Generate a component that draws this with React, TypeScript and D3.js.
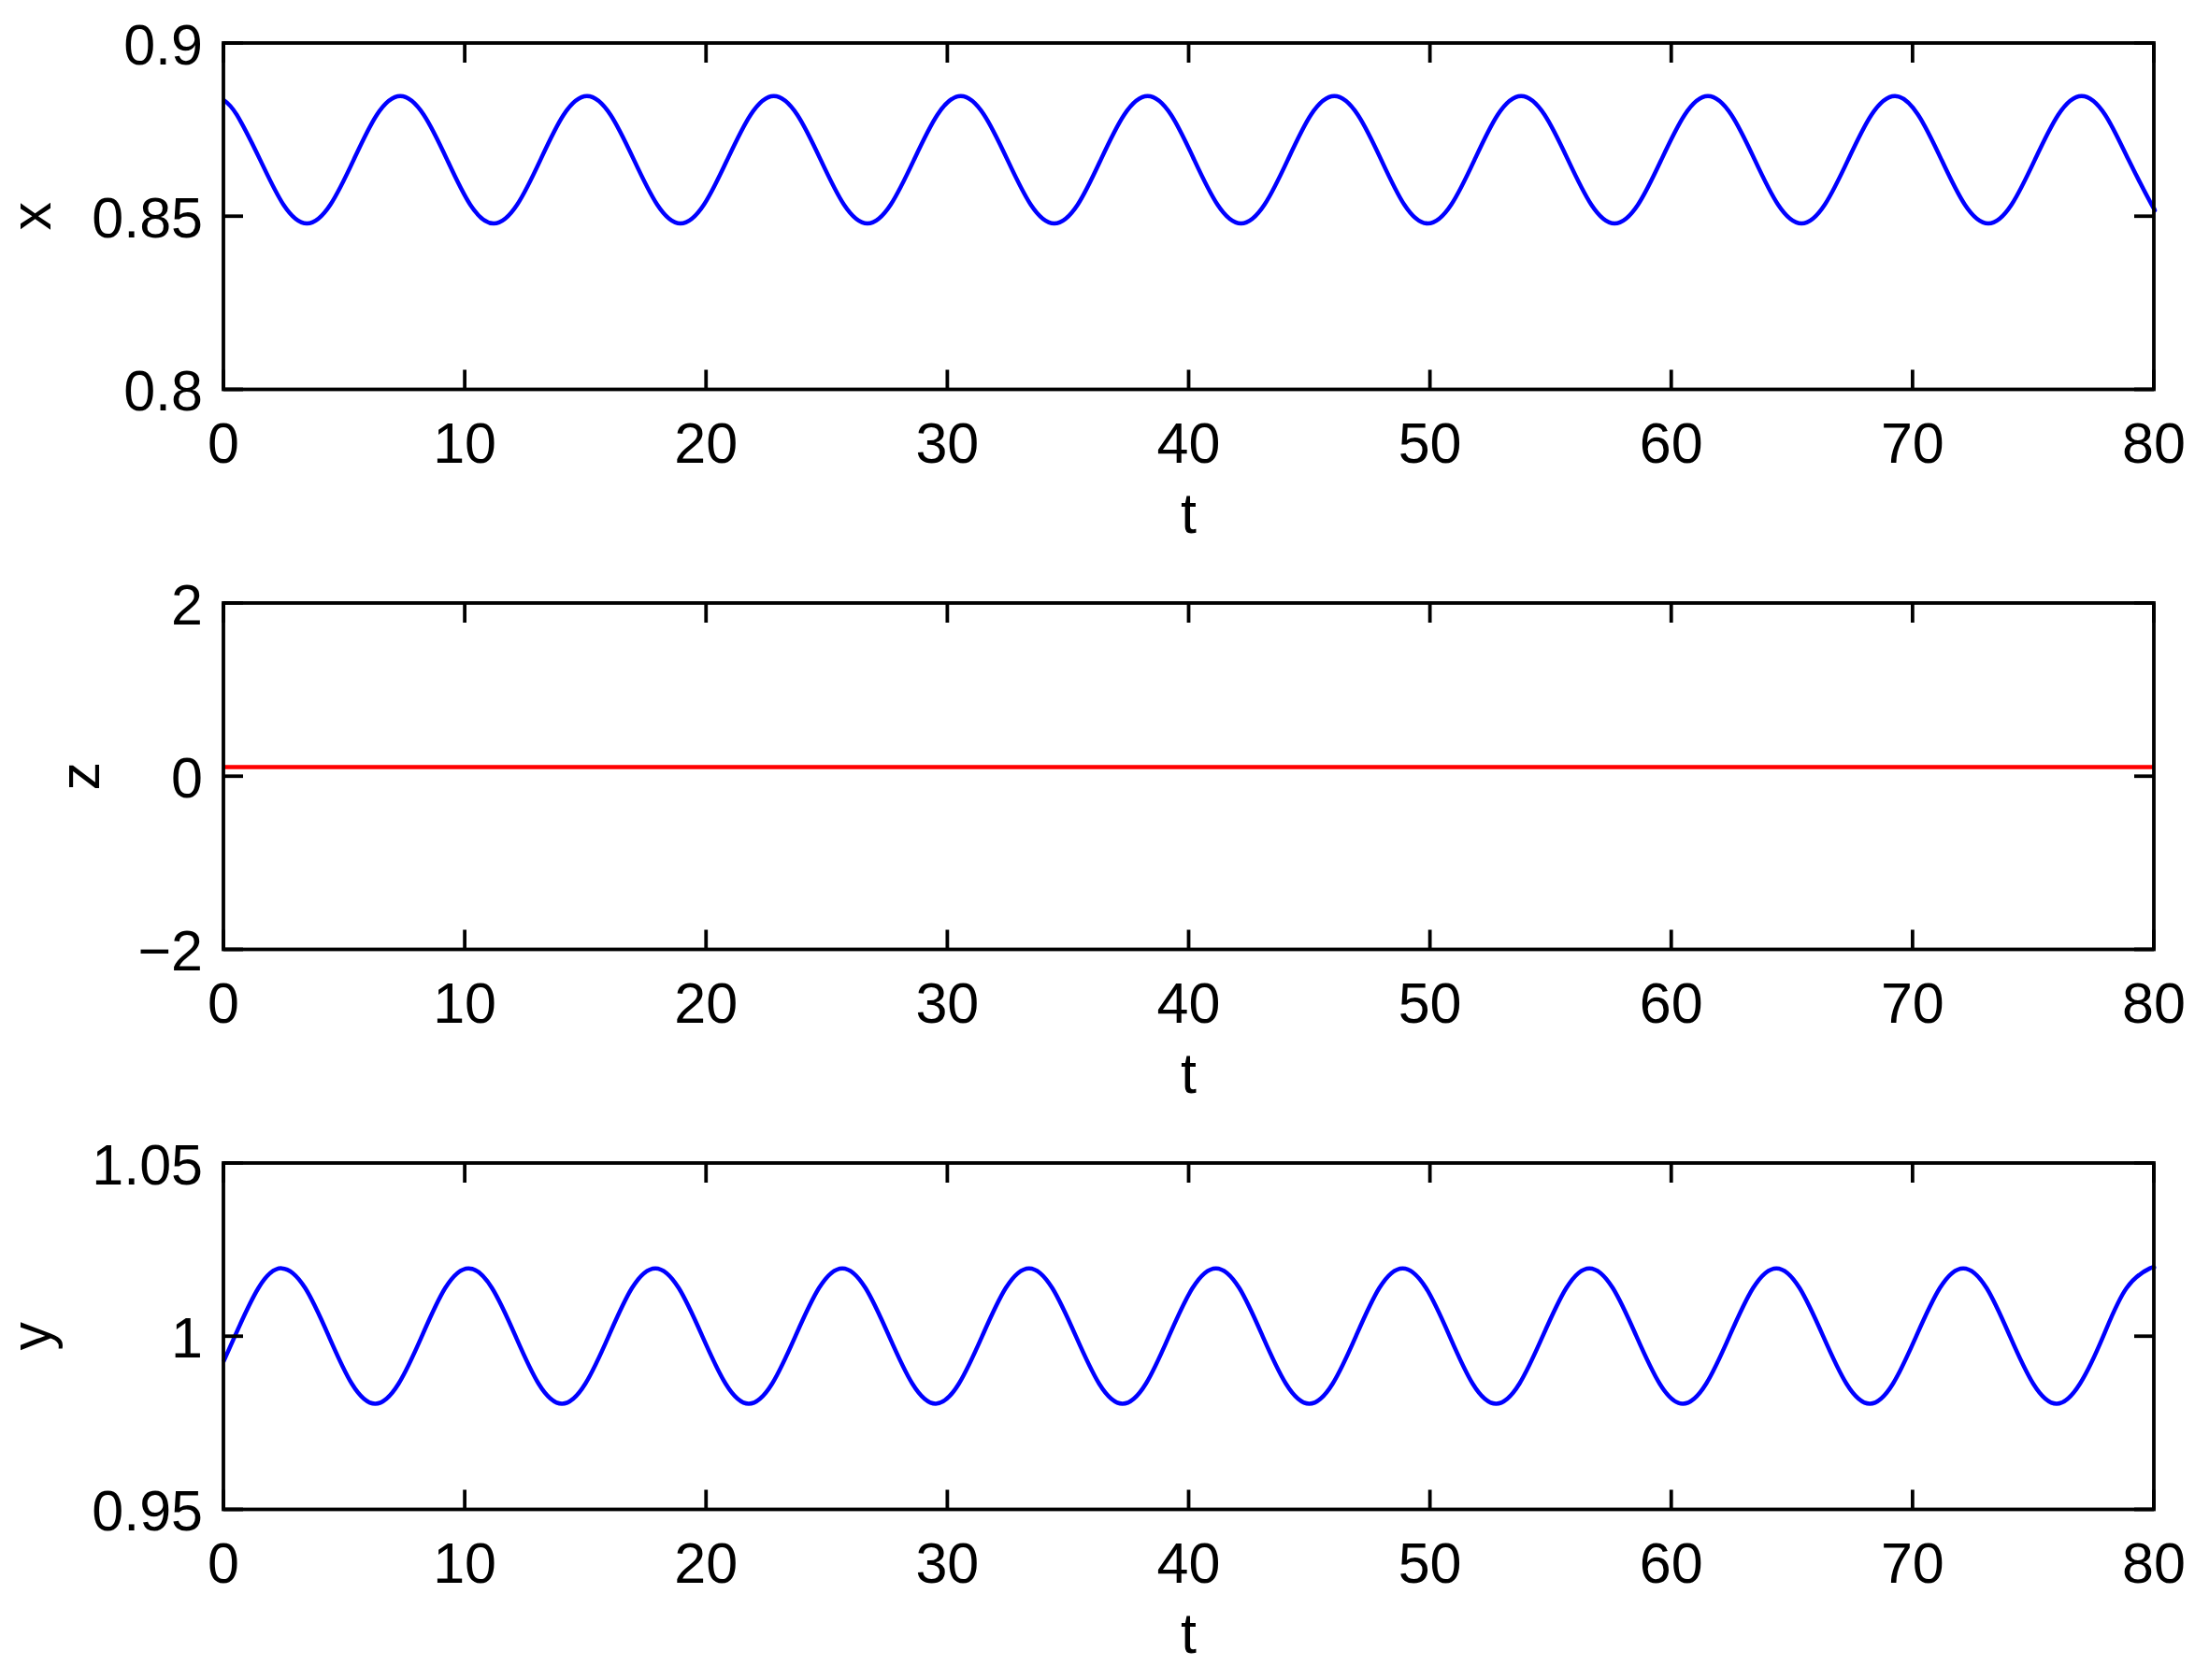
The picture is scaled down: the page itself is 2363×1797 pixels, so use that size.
import React from 'react';
import * as d3 from 'd3';

// ---- data ----
const tTicks = [0, 10, 20, 30, 40, 50, 60, 70, 80];
const tTickLabels = ['0', '10', '20', '30', '40', '50', '60', '70', '80'];

// x(t): top panel, points every ~1/8 of an oscillation
const tX = [
  0, 0.55, 1.52, 2.49,
  3.46, 4.43, 5.40, 6.36, 7.33, 8.30, 9.27, 10.23,
  11.20, 12.17, 13.14, 14.10, 15.07, 16.04, 17.01, 17.98,
  18.94, 19.91, 20.88, 21.85, 22.81, 23.78, 24.75, 25.72,
  26.69, 27.65, 28.62, 29.59, 30.56, 31.52, 32.49, 33.46,
  34.43, 35.40, 36.36, 37.33, 38.30, 39.27, 40.23, 41.20,
  42.17, 43.14, 44.11, 45.07, 46.04, 47.01, 47.98, 48.94,
  49.91, 50.88, 51.85, 52.81, 53.78, 54.75, 55.72, 56.69,
  57.65, 58.62, 59.59, 60.56, 61.52, 62.49, 63.46, 64.43,
  65.40, 66.36, 67.33, 68.30, 69.27, 70.23, 71.20, 72.17,
  73.14, 74.10, 75.07, 76.04, 77.01, 77.98, 78.95, 79.91,
  80,
];
const xVals = [
  0.8836, 0.8793, 0.8663, 0.8533,
  0.8479, 0.8533, 0.8663, 0.8793, 0.8847, 0.8793, 0.8663, 0.8533,
  0.8479, 0.8533, 0.8663, 0.8793, 0.8847, 0.8793, 0.8663, 0.8533,
  0.8479, 0.8533, 0.8663, 0.8793, 0.8847, 0.8793, 0.8663, 0.8533,
  0.8479, 0.8533, 0.8663, 0.8793, 0.8847, 0.8793, 0.8663, 0.8533,
  0.8479, 0.8533, 0.8663, 0.8793, 0.8847, 0.8793, 0.8663, 0.8533,
  0.8479, 0.8533, 0.8663, 0.8793, 0.8847, 0.8793, 0.8663, 0.8533,
  0.8479, 0.8533, 0.8663, 0.8793, 0.8847, 0.8793, 0.8663, 0.8533,
  0.8479, 0.8533, 0.8663, 0.8793, 0.8847, 0.8793, 0.8663, 0.8533,
  0.8479, 0.8533, 0.8663, 0.8793, 0.8847, 0.8793, 0.8663, 0.8533,
  0.8479, 0.8533, 0.8663, 0.8793, 0.8847, 0.8793, 0.8663, 0.8533,
  0.8524,
];
const xTicks = [0.8, 0.85, 0.9];
const xTickLabels = ['0.8', '0.85', '0.9'];

// z(t): middle panel
const tZ = [0, 80];
const zVals = [0.105, 0.105];
const zTicks = [-2, 0, 2];
const zTickLabels = ['\u22122', '0', '2'];

// y(t): bottom panel
const tY = [
  0, 0.48, 1.45,
  2.42, 3.39, 4.36, 5.32, 6.29, 7.26, 8.23, 9.19,
  10.16, 11.13, 12.10, 13.06, 14.03, 15.00, 15.97, 16.93,
  17.90, 18.87, 19.84, 20.81, 21.77, 22.74, 23.71, 24.68,
  25.65, 26.61, 27.58, 28.55, 29.52, 30.48, 31.45, 32.42,
  33.39, 34.35, 35.32, 36.29, 37.26, 38.23, 39.19, 40.16,
  41.13, 42.10, 43.06, 44.03, 45.00, 45.97, 46.94, 47.90,
  48.87, 49.84, 50.81, 51.77, 52.74, 53.71, 54.68, 55.65,
  56.61, 57.58, 58.55, 59.52, 60.48, 61.45, 62.42, 63.39,
  64.36, 65.32, 66.29, 67.26, 68.23, 69.19, 70.16, 71.13,
  72.10, 73.07, 74.03, 75.00, 75.97, 76.94, 77.91, 78.87,
  79.84, 80,
];
const yVals = [
  0.9926, 1.0001, 1.0139,
  1.0196, 1.0139, 1.0001, 0.9863, 0.9805, 0.9863, 1.0001, 1.0139,
  1.0196, 1.0139, 1.0001, 0.9863, 0.9805, 0.9863, 1.0001, 1.0139,
  1.0196, 1.0139, 1.0001, 0.9863, 0.9805, 0.9863, 1.0001, 1.0139,
  1.0196, 1.0139, 1.0001, 0.9863, 0.9805, 0.9863, 1.0001, 1.0139,
  1.0196, 1.0139, 1.0001, 0.9863, 0.9805, 0.9863, 1.0001, 1.0139,
  1.0196, 1.0139, 1.0001, 0.9863, 0.9805, 0.9863, 1.0001, 1.0139,
  1.0196, 1.0139, 1.0001, 0.9863, 0.9805, 0.9863, 1.0001, 1.0139,
  1.0196, 1.0139, 1.0001, 0.9863, 0.9805, 0.9863, 1.0001, 1.0139,
  1.0196, 1.0139, 1.0001, 0.9863, 0.9805, 0.9863, 1.0001, 1.0139,
  1.0196, 1.0139, 1.0001, 0.9863, 0.9805, 0.9863, 1.0001, 1.0139,
  1.0196, 1.0196,
];
const yTicks = [0.95, 1, 1.05];
const yTickLabels = ['0.95', '1', '1.05'];

// ---- layout ----
const W = 2363;
const H = 1797;
const LEFT = 239;
const RIGHT = 2304;
const PH = 370.5;
const TICK = 21;
const FONT = '"Liberation Sans", Arial, Helvetica, sans-serif';
const FS = 61;
const AXW = 3.8;
const LW = 4.5;

type PanelProps = {
  top: number;
  domain: [number, number];
  ticks: number[];
  tickLabels: string[];
  label: string;
  labelX: number;
  t: number[];
  v: number[];
  color: string;
  curve: d3.CurveFactory;
};

function Panel({ top, domain, ticks, tickLabels, label, labelX, t, v, color, curve }: PanelProps) {
  const bottom = top + PH;
  const xs = d3.scaleLinear().domain([0, 80]).range([LEFT, RIGHT]);
  const ys = d3.scaleLinear().domain(domain).range([bottom, top]);
  const pts = t.map((tt, i) => [tt, v[i]] as [number, number]);
  const line = d3
    .line<[number, number]>()
    .x((d) => xs(d[0]))
    .y((d) => ys(d[1]))
    .curve(curve);
  return (
    <g>
      <path d={line(pts) || ''} fill="none" stroke={color} strokeWidth={LW} strokeLinejoin="round" />
      {tTicks.map((tv) => (
        <g key={'tx' + tv}>
          <line x1={xs(tv)} x2={xs(tv)} y1={bottom} y2={bottom - TICK} stroke="#000" strokeWidth={AXW} />
          <line x1={xs(tv)} x2={xs(tv)} y1={top} y2={top + TICK} stroke="#000" strokeWidth={AXW} />
        </g>
      ))}
      {ticks.map((yv) => (
        <g key={'ty' + yv}>
          <line x1={LEFT} x2={LEFT + TICK} y1={ys(yv)} y2={ys(yv)} stroke="#000" strokeWidth={AXW} />
          <line x1={RIGHT} x2={RIGHT - TICK} y1={ys(yv)} y2={ys(yv)} stroke="#000" strokeWidth={AXW} />
        </g>
      ))}
      <rect x={LEFT} y={top} width={RIGHT - LEFT} height={PH} fill="none" stroke="#000" strokeWidth={AXW} />
      {tTicks.map((tv, i) => (
        <text key={'lx' + tv} x={xs(tv)} y={bottom + 78} textAnchor="middle" fontFamily={FONT} fontSize={FS} fill="#000">
          {tTickLabels[i]}
        </text>
      ))}
      {ticks.map((yv, i) => (
        <text key={'ly' + yv} x={LEFT - 22} y={ys(yv) + 22.5} textAnchor="end" fontFamily={FONT} fontSize={FS} fill="#000">
          {tickLabels[i]}
        </text>
      ))}
      <text x={(LEFT + RIGHT) / 2} y={bottom + 153} textAnchor="middle" fontFamily={FONT} fontSize={FS} fill="#000">
        t
      </text>
      <text
        transform={`translate(${labelX},${(top + bottom) / 2}) rotate(-90)`}
        textAnchor="middle"
        fontFamily={FONT}
        fontSize={FS}
        fill="#000"
      >
        {label}
      </text>
    </g>
  );
}

export default function App() {
  return (
    <svg
      width={W}
      height={H}
      viewBox={`0 0 ${W} ${H}`}
      style={{ position: 'absolute', left: 0, top: 0, background: '#fff' }}
    >
      <rect x={0} y={0} width={W} height={H} fill="#fff" />
      <Panel top={46} domain={[0.8, 0.9]} ticks={xTicks} tickLabels={xTickLabels} label="x" labelX={54} t={tX} v={xVals} color="#0000ff" curve={d3.curveNatural} />
      <Panel top={645} domain={[-2, 2]} ticks={zTicks} tickLabels={zTickLabels} label="z" labelX={106} t={tZ} v={zVals} color="#ff0000" curve={d3.curveLinear} />
      <Panel top={1244} domain={[0.95, 1.05]} ticks={yTicks} tickLabels={yTickLabels} label="y" labelX={54} t={tY} v={yVals} color="#0000ff" curve={d3.curveNatural} />
    </svg>
  );
}
